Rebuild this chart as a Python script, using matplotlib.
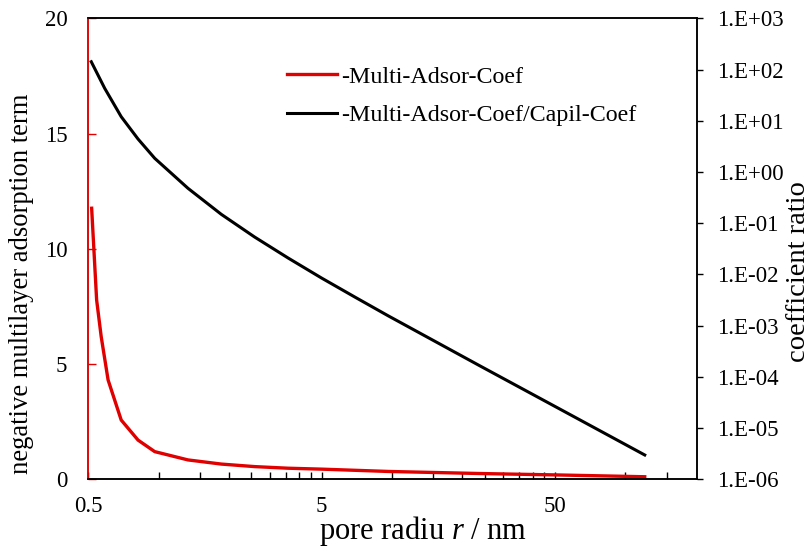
import matplotlib
matplotlib.use("Agg")
import matplotlib.pyplot as plt
import numpy as np
from matplotlib.ticker import FixedLocator, FuncFormatter, NullFormatter

# data
r_red = [0.517, 0.543, 0.568, 0.608, 0.692, 0.817, 0.963, 1.337, 1.857, 2.58, 3.59, 4.99, 9.62, 23.8, 50, 121]
multi_adsor = [11.76, 7.78, 6.19, 4.31, 2.57, 1.70, 1.20, 0.84, 0.66, 0.55, 0.48, 0.44, 0.34, 0.25, 0.19, 0.11]

r_black = [0.515, 0.588, 0.692, 0.817, 0.963, 1.337, 1.857, 2.58, 3.59, 4.99, 6.93, 9.62,
           14.6, 23.8, 39.0, 63.9, 121]
coef_ratio = [142, 43.0, 12.0, 4.40, 1.85, 0.480, 0.149, 0.0537, 0.0209, 0.00851, 0.00362, 0.00156,
              5.53e-4, 1.64e-4, 4.86e-5, 1.44e-5, 2.98e-6]

x_major = [0.5, 5, 50]
x_minor = [1, 1.5, 2, 2.5, 3, 3.5, 4, 4.5, 10, 15, 20, 25, 30, 35, 40, 45, 100, 150]

plt.rcParams['font.family'] = ['Liberation Serif', 'DejaVu Serif']
plt.rcParams['mathtext.fontset'] = 'custom'
plt.rcParams['mathtext.rm'] = 'Liberation Serif'
plt.rcParams['mathtext.it'] = 'Liberation Serif:italic'

fig = plt.figure(figsize=(8.12, 5.47), dpi=100)
ax = fig.add_axes([0.1087, 0.1238, 0.858 - 0.1087, 0.9665 - 0.1238])
ax2 = ax.twinx()

l1, = ax.plot(r_red, multi_adsor, color='#e00000', lw=2.4)
l2, = ax2.plot(r_black, coef_ratio, color='black', lw=2.2)

ax.set_xscale('log')
ax.set_xlim(0.5, 202)
ax.set_ylim(0, 20)
ax.set_yticks([0, 5, 10, 15, 20])
ax.xaxis.set_major_locator(FixedLocator(x_major))
ax.xaxis.set_minor_locator(FixedLocator(x_minor))
ax.xaxis.set_major_formatter(FuncFormatter(lambda v, p: '%g' % v))
ax.xaxis.set_minor_formatter(NullFormatter())

ax2.set_yscale('log')
ax2.set_ylim(1e-6, 1e3)
ax2.yaxis.set_major_locator(FixedLocator([10.0 ** k for k in range(-6, 4)]))
ax2.yaxis.set_minor_locator(FixedLocator([]))
ax2.yaxis.set_major_formatter(FuncFormatter(lambda v, p: '1.E%+03d' % round(np.log10(v))))

fs = 16.5
ax.tick_params(axis='x', which='both', direction='in', length=5, width=1, pad=12, labelsize=fs)
ax.tick_params(axis='y', direction='in', length=6, width=1, color='#e00000', pad=15, labelsize=fs)
ax2.tick_params(axis='y', direction='out', length=4, width=1, pad=11, labelsize=fs)

ax.spines['left'].set_color('#e00000')
ax2.spines['left'].set_color('#e00000')
for a in (ax, ax2):
    for s in a.spines.values():
        s.set_linewidth(1.1)

# axis titles placed like the reference (not centred on the axes)
fig.text(423.5 / 812, 1 - 539 / 547, 'pore radiu $r$ / nm', fontsize=22, ha='center', va='baseline')
fig.text(22 / 812, 1 - 284 / 547, 'negative multilayer adsorption term', fontsize=19.2,
         rotation=90, ha='center', va='center')
fig.text(811 / 812, 1 - 272 / 547, 'coefficient ratio', fontsize=20.5,
         rotation=90, ha='right', va='center')

ax2.legend([l1, l2], ['-Multi-Adsor-Coef', '-Multi-Adsor-Coef/Capil-Coef'],
           loc='upper left', bbox_to_anchor=(286.7 / 812, 1 - 66 / 547), bbox_transform=fig.transFigure,
           frameon=False, fontsize=17.3, handlelength=2.08, handletextpad=0.2, labelspacing=0.68,
           borderpad=0, borderaxespad=0)

fig.savefig('out.png', dpi=100)
